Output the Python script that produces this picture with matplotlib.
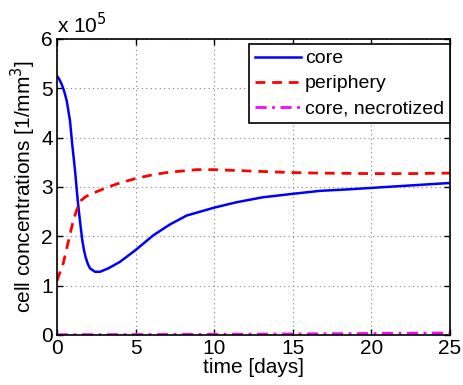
import matplotlib
matplotlib.use("Agg")
import matplotlib.pyplot as plt

plt.rcParams['font.family'] = ['Liberation Sans', 'DejaVu Sans']

# values in units of 1e5 cells/mm^3
t_core = [0, 0.15, 0.3, 0.45, 0.62, 0.83, 0.97, 1.15, 1.32, 1.46, 1.61, 1.72, 1.82, 1.95,
          2.1, 2.42, 2.74, 3.27, 4.0, 4.5, 5.0, 6.13, 7.19, 8.25, 10, 11.43, 13.1,
          15, 16.73, 18.5, 20, 22.5, 25]
core = [5.25, 5.18, 5.08, 4.95, 4.75, 4.34, 3.87, 3.33, 2.73, 2.32, 1.92, 1.72, 1.58, 1.45,
        1.35, 1.28, 1.28, 1.35, 1.48, 1.60, 1.72, 2.02, 2.24, 2.42, 2.58, 2.69, 2.79,
        2.86, 2.92, 2.95, 2.98, 3.03, 3.08]

t_peri = [0, 0.4, 0.72, 1.04, 1.36, 1.55, 1.78, 2.1, 2.42, 3.27, 4.0, 5.0, 6.13, 7.19,
          8.89, 10, 12.49, 15, 16.73, 20, 22.5, 25]
peri = [1.10, 1.45, 1.89, 2.32, 2.63, 2.73, 2.79, 2.85, 2.89, 3.00, 3.08, 3.17, 3.25, 3.30,
        3.35, 3.35, 3.32, 3.29, 3.28, 3.27, 3.27, 3.28]

t_necr = [0, 5, 10, 15, 20, 25]
necr = [0.005, 0.008, 0.013, 0.02, 0.03, 0.04]

fig = plt.figure(figsize=(4.63, 3.85), dpi=100)
ax = fig.add_axes([0.123, 0.130, 0.849, 0.769])

ax.plot(t_core, core, color='blue', lw=1.8, label='core')
ax.plot(t_peri, peri, color='red', lw=2, ls=(0, (3.5, 2.5)), label='periphery')
ax.plot(t_necr, necr, color='magenta', lw=2, ls=(0, (4, 2, 1, 2)), label='core, necrotized')

ax.set_xlim(0, 25)
ax.set_ylim(0, 6)
ax.set_xticks([0, 5, 10, 15, 20, 25])
ax.set_yticks([0, 1, 2, 3, 4, 5, 6])
ax.grid(True, color='gray', ls=(0, (1, 3)), lw=0.8)
ax.tick_params(direction='in', top=True, right=True, labelsize=15, length=4, width=1, pad=3)
for s in ax.spines.values():
    s.set_linewidth(1.2)

ax.set_xlabel('time [days]', fontsize=15, labelpad=0)
ax.set_ylabel('cell concentrations [1/mm$^3$]', fontsize=15, labelpad=2)
ax.text(0.0, 1.005, 'x 10$^5$', transform=ax.transAxes, fontsize=15, va='bottom', ha='left')

leg = ax.legend(loc='upper right', bbox_to_anchor=(1.0, 0.983), fontsize=14,
                fancybox=False, framealpha=1, edgecolor='black', borderaxespad=0,
                handlelength=2.4, handletextpad=0.2, labelspacing=0.38, borderpad=0.3)
leg.get_frame().set_linewidth(1.2)

fig.savefig('out.png', dpi=100)
